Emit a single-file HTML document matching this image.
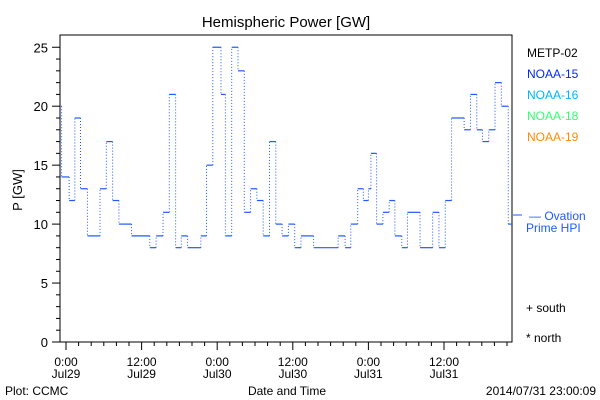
<!DOCTYPE html>
<html><head><meta charset="utf-8"><style>
body{margin:0;background:#fff}
svg{display:block;font-family:"Liberation Sans",sans-serif}
</style></head><body>
<svg width="600" height="400" viewBox="0 0 600 400">
<rect x="0" y="0" width="600" height="400" fill="#fff"/>
<text x="286" y="27" font-size="15" text-anchor="middle">Hemispheric Power [GW]</text>
<rect x="60" y="35" width="452" height="307" fill="none" stroke="#000" stroke-width="1"/>
<g id="yaxis"></g>
<g id="xaxis"></g>
<g id="series"></g>
<text x="22" y="190" font-size="13" text-anchor="middle" transform="rotate(-90 22 190)">P [GW]</text>
<text x="5" y="395" font-size="12">Plot: CCMC</text>
<text x="287" y="395" font-size="12" text-anchor="middle">Date and Time</text>
<text x="596" y="395" font-size="12" text-anchor="end">2014/07/31 23:00:09</text>
<g font-size="12">
<text x="527" y="57" fill="#000">METP-02</text>
<text x="527" y="78" fill="#0028ff">NOAA-15</text>
<text x="527" y="99" fill="#00b4ff">NOAA-16</text>
<text x="527" y="120" fill="#30ff70">NOAA-18</text>
<text x="527" y="141" fill="#ff8c00">NOAA-19</text>
<line x1="513" y1="215" x2="522" y2="215" stroke="#1e5aff"/>
<text x="529" y="220" fill="#1e5aff">— Ovation</text>
<text x="526" y="232" fill="#1e5aff">Prime HPI</text>
<text x="526" y="312" fill="#000">+ south</text>
<text x="526" y="342" fill="#000">* north</text>
</g>
</svg>
<script>
const stepHours=[-0.8,-0.7,0.5,1.4,2.3,3.4,5.4,6.4,7.4,8.4,10.4,13.3,14.3,15.4,16.4,17.4,18.3,19.3,21.4,22.3,23.3,24.6,25.3,26.3,27.3,28.3,29.3,30.3,31.3,32.3,33.3,34.3,35.3,36.3,37.3,39.3,43.2,44.3,45.2,46.3,47.2,48.0,48.4,49.3,50.3,51.3,52.2,53.3,54.2,56.2,58.2,59.2,60.2,61.2,63.2,64.2,65.2,66.1,67.1,68.1,69.1,70.2];
const stepValues=[20,14,12,19,13,9,13,17,12,10,9,8,9,11,21,8,9,8,9,15,25,21,9,25,23,11,13,12,9,17,10,9,10,8,9,8,9,8,10,13,12,13,16,10,11,12,9,8,11,8,11,8,12,19,18,21,18,17,18,22,20,10];
const yTicks=[0,5,10,15,20,25];
const xTickLabels=[["0:00","Jul29"],["12:00","Jul29"],["0:00","Jul30"],["12:00","Jul30"],["0:00","Jul31"],["12:00","Jul31"]];
const endHour=70.8;
const NS="http://www.w3.org/2000/svg";
function X(h){return 66+h*6.3;}
function Y(v){return 342-v*11.79;}
function mk(t,a,p){const e=document.createElementNS(NS,t);for(const k in a)e.setAttribute(k,a[k]);p.appendChild(e);return e;}
const ya=document.getElementById('yaxis');
for(let v=0;v<=25;v++){const major=v%5===0;
 const l=mk('line',{x1:major?52:56,x2:60,y1:Y(v),y2:Y(v),stroke:'#000'},ya);
 
 }
yTicks.forEach(v=>{const t=mk('text',{x:48,y:Y(v)+5,'font-size':13,'text-anchor':'end'},ya);t.textContent=v;
 
 });
const xa=document.getElementById('xaxis');
for(let h=0;h<=70;h+=2){const major=h%12===0;
 const l=mk('line',{x1:X(h),x2:X(h),y1:342,y2:major?350:346,stroke:'#000'},xa);
 
 }
xTickLabels.forEach((lab,i)=>{const x=X(i*12);
 const t1=mk('text',{x:x,y:366,'font-size':12,'text-anchor':'middle'},xa);t1.textContent=lab[0];
 
 
 const t2=mk('text',{x:x,y:378,'font-size':12,'text-anchor':'middle'},xa);t2.textContent=lab[1];
 
 });
const sg=document.getElementById('series');
for(let i=0;i<stepValues.length;i++){
 const x1=Math.max(60,X(stepHours[i])),x2=i+1<stepHours.length?X(stepHours[i+1]):X(endHour);
 const h=mk('line',{x1:x1,x2:x2,y1:Y(stepValues[i]),y2:Y(stepValues[i]),stroke:'#1e5aff','stroke-width':1.2},sg);
 
 
 if(i+1<stepValues.length){
  const v=mk('line',{x1:x2,x2:x2,y1:Y(stepValues[i]),y2:Y(stepValues[i+1]),stroke:'#1e5aff','stroke-width':1,'stroke-dasharray':'1 2'},sg);
  
  }
}
</script>
</body></html>
